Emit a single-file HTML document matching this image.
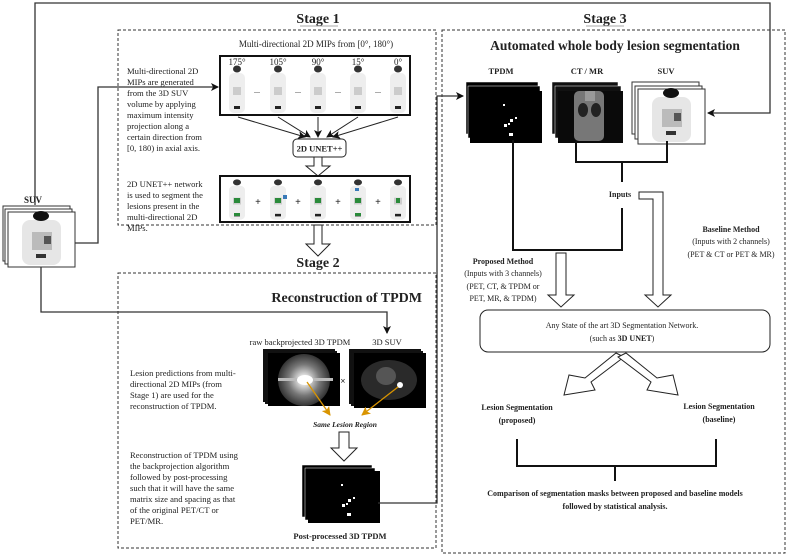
<!DOCTYPE html>
<html><head><meta charset="utf-8"><style>
html,body{margin:0;padding:0;background:#fff}
svg{display:block}
text{font-family:"Liberation Serif",serif;fill:#222}
.b{font-weight:bold}
</style></head><body>
<svg width="789" height="555" viewBox="0 0 789 555" xmlns="http://www.w3.org/2000/svg">
<defs>
<marker id="ah" markerWidth="8" markerHeight="8" refX="7" refY="4" orient="auto" markerUnits="userSpaceOnUse"><path d="M0,0 L8,4 L0,8 L2,4 z" fill="#111"/></marker>
<marker id="ao" markerWidth="9" markerHeight="9" refX="8" refY="4.5" orient="auto" markerUnits="userSpaceOnUse"><path d="M0,0 L9,4.5 L0,9 L2,4.5 z" fill="#d99400"/></marker>
<radialGradient id="burst"><stop offset="0" stop-color="#fff"/><stop offset="0.2" stop-color="#ddd"/><stop offset="0.6" stop-color="#777"/><stop offset="1" stop-color="#333"/></radialGradient>
<g id="body">
<ellipse cx="0" cy="4" rx="4" ry="3.5" fill="#333"/>
<rect x="-8" y="8" width="16" height="40" rx="5" fill="#eee"/>
<rect x="-4" y="22" width="8" height="8" fill="#ccc"/>
<rect x="-3" y="41" width="6" height="3" fill="#222"/>
</g>
<g id="suvimg">
<rect x="0" y="0" width="67" height="55" fill="#fff" stroke="#333" stroke-width="1"/>
<rect x="14" y="8" width="39" height="45" rx="8" fill="#e6e6e6"/>
<ellipse cx="33" cy="4" rx="8" ry="5" fill="#111"/>
<rect x="24" y="20" width="20" height="18" fill="#bbb"/>
<rect x="36" y="24" width="7" height="8" fill="#555"/>
<rect x="28" y="42" width="10" height="4" fill="#333"/>
</g>
<g id="tpdmimg">
<rect x="0" y="0" width="72" height="52" fill="#000"/>
<rect x="33" y="13" width="2" height="2" fill="#fff"/>
<rect x="40" y="28" width="3" height="3" fill="#fff"/>
<rect x="45" y="26" width="2" height="2" fill="#fff"/>
<rect x="34" y="33" width="3" height="3" fill="#fff"/>
<rect x="38" y="32" width="2" height="2" fill="#fff"/>
<rect x="39" y="42" width="4" height="3" fill="#fff"/>
</g>
</defs>

<polyline points="35,205 35,3 770,3 770,113 708,113" fill="none" stroke="#333" stroke-width="1.3" marker-end="url(#ah)"/>

<text x="33" y="203" class="b" font-size="9" text-anchor="middle">SUV</text>
<rect x="3" y="206" width="67" height="55" fill="#fff" stroke="#333"/>
<rect x="5" y="209" width="67" height="55" fill="#fff" stroke="#333"/>
<use href="#suvimg" x="8" y="212"/>
<polyline points="75,243 98,243 98,87 218,87" fill="none" stroke="#333" stroke-width="1.3" marker-end="url(#ah)"/>
<polyline points="41,267 41,312 387,312 387,333" fill="none" stroke="#333" stroke-width="1.3" marker-end="url(#ah)"/>

<text x="318" y="23" class="b" font-size="14" text-anchor="middle">Stage 1</text>
<line x1="300" y1="26" x2="338" y2="26" stroke="#aaa"/>
<rect x="118" y="30" width="318" height="195" fill="none" stroke="#333" stroke-dasharray="3,2"/>
<text x="316" y="47" font-size="9" text-anchor="middle">Multi-directional 2D MIPs from [0°, 180°)</text>
<rect x="220" y="56" width="190" height="59" fill="#fff" stroke="#111" stroke-width="2"/>
<g font-size="9" text-anchor="middle">
<text x="237" y="65">175°</text><text x="278" y="65">105°</text><text x="318" y="65">90°</text><text x="358" y="65">15°</text><text x="398" y="65">0°</text>
</g>
<use href="#body" x="237" y="65"/><use href="#body" x="278" y="65"/><use href="#body" x="318" y="65"/><use href="#body" x="358" y="65"/><use href="#body" x="398" y="65"/>
<g font-size="8" text-anchor="middle"><text x="257" y="93">...</text><text x="298" y="93">...</text><text x="338" y="93">...</text><text x="378" y="93">...</text></g>
<g stroke="#222" stroke-width="1" fill="none" marker-end="url(#ah)">
<line x1="238" y1="117" x2="305" y2="137"/><line x1="278" y1="117" x2="310" y2="137"/><line x1="318" y1="117" x2="318" y2="137"/><line x1="358" y1="117" x2="327" y2="137"/><line x1="398" y1="117" x2="333" y2="137"/>
</g>
<rect x="293" y="139" width="53" height="18" rx="4" fill="#fff" stroke="#222"/>
<text x="319.5" y="151.5" class="b" font-size="8.5" text-anchor="middle">2D UNET++</text>
<polygon points="314,157 322,157 322,166 330,166 318,176 306,166 314,166" fill="#fff" stroke="#222"/>
<rect x="220" y="176" width="190" height="46" fill="#fff" stroke="#111" stroke-width="2"/>
<g transform="translate(0,111) scale(1,0.85)">
<use href="#body" x="237" y="80"/><use href="#body" x="278" y="80"/><use href="#body" x="318" y="80"/><use href="#body" x="358" y="80"/><use href="#body" x="398" y="80"/>
</g>
<g fill="#2a8a3a"><rect x="234" y="198" width="6" height="5"/><rect x="275" y="198" width="6" height="5"/><rect x="315" y="198" width="6" height="5"/><rect x="355" y="198" width="6" height="5"/><rect x="396" y="198" width="4" height="5"/><rect x="234" y="213" width="6" height="3"/><rect x="355" y="213" width="6" height="3"/></g>
<g fill="#3a7ab8"><rect x="283" y="195" width="4" height="4"/><rect x="355" y="188" width="4" height="3"/></g>
<g font-size="10" text-anchor="middle" class="b"><text x="258" y="205">+</text><text x="298" y="205">+</text><text x="338" y="205">+</text><text x="378" y="205">+</text></g>
<g font-size="8.6">
<text x="127" y="74">Multi-directional 2D</text>
<text x="127" y="85">MIPs are generated</text>
<text x="127" y="96">from the 3D SUV</text>
<text x="127" y="107">volume by applying</text>
<text x="127" y="118">maximum intensity</text>
<text x="127" y="129">projection along a</text>
<text x="127" y="140">certain direction from</text>
<text x="127" y="151">[0, 180) in axial axis.</text>
<text x="127" y="187">2D UNET++ network</text>
<text x="127" y="198">is used to segment the</text>
<text x="127" y="209">lesions present in the</text>
<text x="127" y="220">multi-directional 2D</text>
<text x="127" y="231">MIPs.</text>
</g>
<polygon points="314,225 322,225 322,244 330,244 318,256 306,244 314,244" fill="#fff" stroke="#222"/>

<text x="318" y="267" class="b" font-size="14" text-anchor="middle">Stage 2</text>
<rect x="118" y="273" width="318" height="275" fill="none" stroke="#333" stroke-dasharray="3,2"/>
<text x="422" y="302" class="b" font-size="14" text-anchor="end">Reconstruction of TPDM</text>
<text x="300" y="345" font-size="8.5" text-anchor="middle">raw backprojected 3D TPDM</text>
<text x="387" y="345" font-size="8.5" text-anchor="middle">3D SUV</text>
<rect x="263" y="349" width="72" height="53" fill="#111"/>
<rect x="265" y="351" width="72" height="53" fill="#111"/>
<rect x="268" y="353" width="72" height="53" fill="#000"/>
<circle cx="304" cy="380" r="26" fill="url(#burst)"/>
<rect x="278" y="378" width="55" height="3" fill="#bbb"/>
<ellipse cx="305" cy="380" rx="8" ry="5" fill="#fff"/>
<text x="343" y="384" class="b" font-size="9" text-anchor="middle">×</text>
<rect x="349" y="349" width="72" height="55" fill="#111"/>
<rect x="351" y="351" width="72" height="55" fill="#111"/>
<rect x="354" y="353" width="72" height="55" fill="#000"/>
<ellipse cx="389" cy="380" rx="28" ry="20" fill="#2a2a2a"/>
<ellipse cx="386" cy="376" rx="10" ry="9" fill="#555"/>
<circle cx="400" cy="385" r="3" fill="#fff"/>
<line x1="307" y1="382" x2="330" y2="415" stroke="#d99400" stroke-width="1.3" marker-end="url(#ao)"/>
<line x1="398" y1="387" x2="362" y2="415" stroke="#d99400" stroke-width="1.3" marker-end="url(#ao)"/>
<text x="345" y="427" class="b" font-size="7.5" font-style="italic" text-anchor="middle">Same Lesion Region</text>
<polygon points="339,432 349,432 349,448 357,448 344,461 331,448 339,448" fill="#fff" stroke="#222"/>
<rect x="302" y="465" width="70" height="52" fill="#000" stroke="#fff" stroke-width="0.5"/>
<rect x="305" y="468" width="70" height="52" fill="#000" stroke="#fff" stroke-width="0.5"/>
<use href="#tpdmimg" x="308" y="471"/>
<text x="340" y="539" class="b" font-size="8.5" text-anchor="middle">Post-processed 3D TPDM</text>
<g font-size="8.6">
<text x="130" y="376">Lesion predictions from multi-</text>
<text x="130" y="387">directional 2D MIPs (from</text>
<text x="130" y="398">Stage 1) are used for the</text>
<text x="130" y="409">reconstruction of TPDM.</text>
<text x="130" y="458">Reconstruction of TPDM using</text>
<text x="130" y="469">the backprojection algorithm</text>
<text x="130" y="480">followed by post-processing</text>
<text x="130" y="491">such that it will have the same</text>
<text x="130" y="502">matrix size and spacing as that</text>
<text x="130" y="513">of the original PET/CT or</text>
<text x="130" y="524">PET/MR.</text>
</g>
<polyline points="378,503 437,503 437,96 463,96" fill="none" stroke="#333" stroke-width="1.3" marker-end="url(#ah)"/>

<text x="605" y="23" class="b" font-size="14" text-anchor="middle">Stage 3</text>
<line x1="586" y1="26" x2="624" y2="26" stroke="#aaa"/>
<rect x="442" y="30" width="343" height="523" fill="none" stroke="#333" stroke-dasharray="3,2"/>
<text x="615" y="50" class="b" font-size="13.5" text-anchor="middle">Automated whole body lesion segmentation</text>
<g class="b" font-size="8.5" text-anchor="middle"><text x="501" y="74">TPDM</text><text x="587" y="74">CT / MR</text><text x="666" y="74">SUV</text></g>
<rect x="466" y="82" width="72" height="52" fill="#000" stroke="#fff" stroke-width="0.5"/>
<rect x="468" y="86" width="72" height="52" fill="#000" stroke="#fff" stroke-width="0.5"/>
<use href="#tpdmimg" x="470" y="91"/>
<rect x="552" y="82" width="66" height="52" fill="#111" stroke="#fff" stroke-width="0.5"/>
<rect x="555" y="86" width="66" height="52" fill="#111" stroke="#fff" stroke-width="0.5"/>
<rect x="558" y="91" width="65" height="52" fill="#0a0a0a"/>
<rect x="574" y="91" width="30" height="50" rx="5" fill="#777"/>
<rect x="585" y="91" width="10" height="10" fill="#999"/>
<ellipse cx="583" cy="110" rx="5" ry="7" fill="#222"/>
<ellipse cx="596" cy="110" rx="5" ry="7" fill="#222"/>
<rect x="632" y="82" width="67" height="52" fill="#fff" stroke="#333"/>
<rect x="635" y="86" width="67" height="53" fill="#fff" stroke="#333"/>
<use href="#suvimg" x="638" y="89"/>
<g stroke="#111" stroke-width="2" fill="none">
<polyline points="513,140 513,250 622,250 622,208"/>
<polyline points="576,141 576,162 667,162 667,141"/>
<line x1="622" y1="162" x2="622" y2="182"/>
</g>
<text x="620" y="197" class="b" font-size="8" text-anchor="middle">Inputs</text>
<polygon points="639,192 663,192 663,295 671,295 658,307 645,295 653,295 653,199 639,199" fill="#fff" stroke="#222"/>
<polygon points="558,253 566,253 566,295 574,295 561,307 548,295 556,295 556,253" fill="#fff" stroke="#222"/>
<g font-size="8" text-anchor="middle">
<text x="731" y="232" class="b">Baseline Method</text>
<text x="731" y="244">(Inputs with 2 channels)</text>
<text x="731" y="257">(PET &amp; CT or PET &amp; MR)</text>
<text x="503" y="264" class="b">Proposed Method</text>
<text x="503" y="276">(Inputs with 3 channels)</text>
<text x="503" y="289">(PET, CT, &amp; TPDM or</text>
<text x="503" y="301">PET, MR, &amp; TPDM)</text>
</g>
<rect x="480" y="310" width="290" height="42" rx="8" fill="#fff" stroke="#222"/>
<text x="622" y="328" font-size="8" text-anchor="middle">Any State of the art 3D Segmentation Network.</text>
<text x="622" y="341" font-size="8" text-anchor="middle">(such as <tspan class="b">3D UNET</tspan>)</text>
<polygon points="616,353 624,357 591,382 595,390 564,395 569,375 585,378" fill="#fff" stroke="#222"/>
<polygon points="626,353 618,357 651,382 647,390 678,395 673,375 657,378" fill="#fff" stroke="#222"/>
<g class="b" font-size="8" text-anchor="middle">
<text x="517" y="410">Lesion Segmentation</text><text x="517" y="423">(proposed)</text>
<text x="719" y="409">Lesion Segmentation</text><text x="719" y="422">(baseline)</text>
<text x="615" y="496">Comparison of segmentation masks between proposed and baseline models</text>
<text x="615" y="509">followed by  statistical analysis.</text>
</g>
<g stroke="#111" stroke-width="2" fill="none">
<polyline points="517,439 517,466 716,466 716,439"/>
<line x1="615" y1="466" x2="615" y2="481"/>
</g>
</svg>
</body></html>
